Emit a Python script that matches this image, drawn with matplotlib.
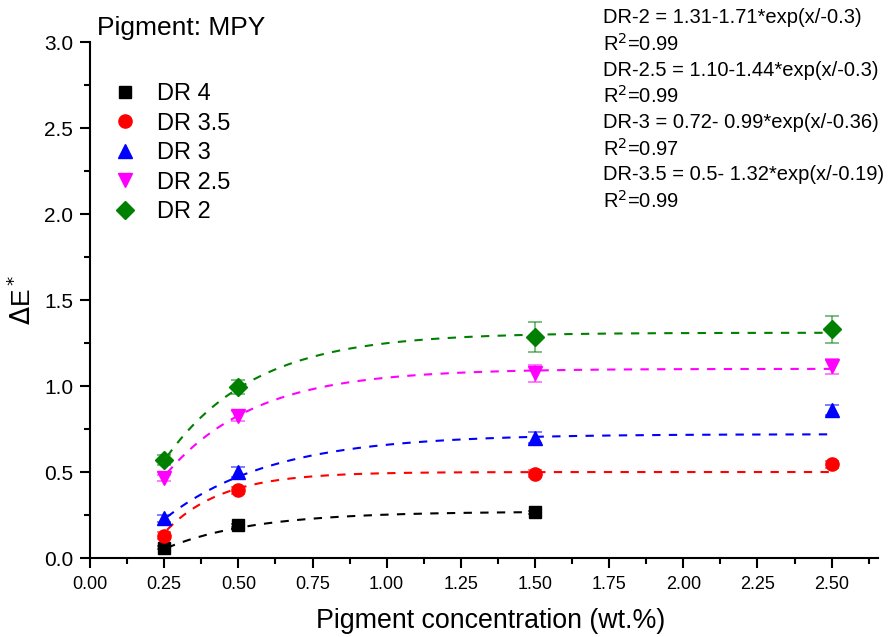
import numpy as np
import matplotlib
matplotlib.use("Agg")
import matplotlib.pyplot as plt
from matplotlib.ticker import MultipleLocator, FormatStrFormatter

plt.rcParams['font.family'] = ['Liberation Sans', 'DejaVu Sans']

# Measured colour difference vs pigment loading
conc = [0.25, 0.50, 1.50, 2.50]
labels = ["DR 4", "DR 3.5", "DR 3", "DR 2.5", "DR 2"]
dr4 = [0.06, 0.19, 0.265]
dr35 = [0.13, 0.395, 0.49, 0.545]
dr3 = [0.23, 0.50, 0.70, 0.86]
dr25 = [0.465, 0.825, 1.075, 1.115]
dr2 = [0.57, 0.995, 1.285, 1.33]
err4 = [0.01, 0.01, 0.01]
err35 = [0.02, 0.02, 0.02, 0.02]
err3 = [0.02, 0.03, 0.03, 0.03]
err25 = [0.02, 0.03, 0.05, 0.045]
err2 = [0.03, 0.04, 0.09, 0.08]

# Exponential-rise fit parameters: y = a - b*exp(x/-t)
fit_a = [0.27, 0.50, 0.72, 1.10, 1.31]
fit_b = [0.50, 1.32, 0.99, 1.44, 1.71]
fit_t = [0.30, 0.19, 0.36, 0.30, 0.30]
fit_end = [1.5, 2.5, 2.5, 2.5, 2.5]

colors = ["black", "red", "blue", "magenta", "green"]
markers = ["s", "o", "^", "v", "D"]
msizes = [8.5, 9.5, 10, 10, 9]
series = [dr4, dr35, dr3, dr25, dr2]
errors = [err4, err35, err3, err25, err2]

equations = [
    "DR-2 = 1.31-1.71*exp(x/-0.3)",
    "R$^2$=0.99",
    "DR-2.5 = 1.10-1.44*exp(x/-0.3)",
    "R$^2$=0.99",
    "DR-3 = 0.72- 0.99*exp(x/-0.36)",
    "R$^2$=0.97",
    "DR-3.5 = 0.5- 1.32*exp(x/-0.19)",
    "R$^2$=0.99",
]

fig = plt.figure(figsize=(8.94, 6.37), dpi=100)
ax = fig.add_axes([0.1007, 0.124, 0.881, 0.810])

handles = []
for i in range(len(series)):
    y = series[i]
    x = conc[:len(y)]
    xf = np.linspace(0.26, fit_end[i], 200)
    yf = fit_a[i] - fit_b[i] * np.exp(xf / -fit_t[i])
    ax.plot(xf, yf, linestyle=(0, (4, 4)), color=colors[i], lw=1.5, zorder=2)
    ax.errorbar(x, y, yerr=errors[i], fmt="none", ecolor=colors[i], alpha=0.6,
                elinewidth=1.2, capsize=5, capthick=1.2, zorder=3)
    h, = ax.plot(x, y, linestyle="none", marker=markers[i], ms=msizes[i],
                 color=colors[i], mec=colors[i], zorder=4, label=labels[i])
    handles.append(h)

ax.set_xlim(0, 2.655)
ax.set_ylim(0, 3.0)
ax.xaxis.set_major_locator(MultipleLocator(0.25))
ax.xaxis.set_minor_locator(MultipleLocator(0.125))
ax.yaxis.set_major_locator(MultipleLocator(0.5))
ax.yaxis.set_minor_locator(MultipleLocator(0.25))
ax.xaxis.set_major_formatter(FormatStrFormatter("%.2f"))
ax.yaxis.set_major_formatter(FormatStrFormatter("%.1f"))
ax.spines["top"].set_visible(False)
ax.spines["right"].set_visible(False)
for s in ["left", "bottom"]:
    ax.spines[s].set_linewidth(1.5)
ax.tick_params(which="major", direction="out", length=7, width=1.5)
ax.tick_params(which="minor", direction="out", length=4, width=1.5)
ax.tick_params(axis="y", labelsize=15, pad=5)
ax.tick_params(axis="x", labelsize=13, pad=6)

ax.set_xlabel("Pigment concentration (wt.%)", fontsize=19.3, labelpad=11)
ax.xaxis.label.set_x(0.508)
ax.set_ylabel(r"$\Delta$E$^*$", fontsize=19, labelpad=6)

fig.text(0.109, 0.956, "Pigment: MPY", fontsize=19, ha="left", va="center")

leg = ax.legend(handles=handles, loc="upper left", bbox_to_anchor=(0.018, 0.939),
                frameon=False, fontsize=17, handlelength=1.0, handletextpad=0.85,
                labelspacing=0.32, borderaxespad=0)

for k, line in enumerate(equations):
    fig.text(0.674, 0.972 - k * 0.041, line, fontsize=14.5, ha="left", va="center")

fig.savefig("out.png", dpi=100)
